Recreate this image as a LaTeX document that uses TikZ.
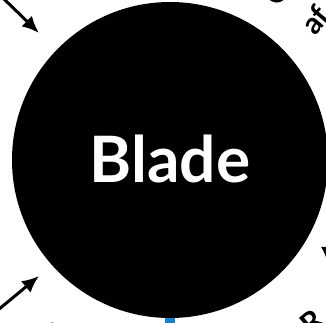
\documentclass[tikz,border=0pt]{standalone}
\usepackage{fontspec}
\setmainfont{Lato}
\usepackage{xcolor}
\usetikzlibrary{arrows.meta, positioning}

\definecolor{bladeblue}{HTML}{1A7FC8}

\begin{document}
\begin{tikzpicture}[x=1pt, y=-1pt,
        hub/.style={circle, fill=black, minimum size=316pt, inner sep=0pt},
        hubtext/.style={text=white, font=\fontsize{64}{64}\selectfont\bfseries},
        ringtext/.style={font=\fontsize{30}{30}\selectfont\bfseries, inner sep=0pt},
        line/.style={draw, line width=3pt, -{Latex[length=17pt, width=15pt]}}]

        \useasboundingbox (0,0) rectangle (326,322);
        \clip (0,0) rectangle (326,322);

        % Nodes
        \node [hub] (blade) at (170,160) {};
        \node [hubtext] (bladelabel) at (170,159) {Blade};
        \coordinate (topin) at (4,-1);
        \coordinate (topinend) at (39,33);
        \coordinate (lowin) at (-2,310);
        \coordinate (lowinend) at (39,276);
        \coordinate (rightin) at (332,50);
        \coordinate (rightinend) at (328,264);

        % Partly visible labels round the hub
        \node [ringtext, rotate=-25] (labelO) at (277,-8) {O};
        \node [ringtext, rotate=50] (labelaf) at (315,20) {af};
        \node [ringtext, rotate=40] (labelR) at (312,322) {R};
        \node [ringtext, rotate=30] (labeli) at (57,333) {i};

        % Paths
        \path [line] (topin) -- (topinend);
        \path [line] (lowin) -- (lowinend);
        \path [line] (rightin) -- (rightinend);
        \draw [bladeblue, line width=10pt] (blade.south) -- ++(0,12);

    \end{tikzpicture}
\end{document}
